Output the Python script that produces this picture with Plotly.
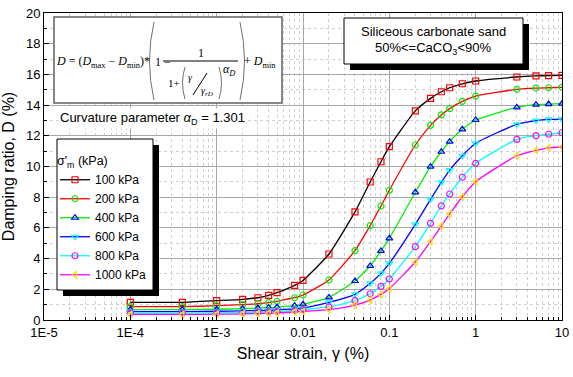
import plotly.graph_objects as go

# ---------------- data ----------------
strain = [1e-4, 4e-4, 1e-3, 2e-3, 3e-3, 4e-3, 5e-3, 8e-3, 0.01, 0.02, 0.04, 0.06,
          0.08, 0.1, 0.2, 0.3, 0.4, 0.5, 0.7, 1, 3, 5, 7, 10]
D100 = [1.15, 1.15, 1.26, 1.35, 1.45, 1.61, 1.78, 2.26, 2.58, 4.30, 7.04, 8.99,
        10.31, 11.29, 13.62, 14.44, 14.87, 15.13, 15.39, 15.57, 15.83, 15.90, 15.92, 15.93]
D200 = [0.87, 0.87, 0.93, 1.00, 1.06, 1.13, 1.22, 1.45, 1.63, 2.61, 4.52, 6.15,
        7.43, 8.45, 11.40, 12.68, 13.36, 13.77, 14.24, 14.59, 15.03, 15.11, 15.13, 15.16]
D400 = [0.68, 0.68, 0.70, 0.74, 0.78, 0.80, 0.84, 0.93, 1.02, 1.47, 2.54, 3.52,
        4.50, 5.32, 8.32, 9.99, 10.96, 11.62, 12.42, 13.03, 13.85, 14.03, 14.07, 14.09]
D600 = [0.55, 0.55, 0.57, 0.60, 0.62, 0.64, 0.66, 0.72, 0.78, 1.15, 1.67, 2.39,
        3.04, 3.69, 6.23, 7.86, 8.97, 9.77, 10.70, 11.51, 12.75, 12.99, 13.07, 13.09]
D800 = [0.45, 0.45, 0.47, 0.49, 0.51, 0.53, 0.55, 0.62, 0.68, 0.85, 1.26, 1.71,
        2.19, 2.67, 4.78, 6.30, 7.43, 8.21, 9.30, 10.21, 11.77, 12.01, 12.10, 12.20]
D1000 = [0.36, 0.36, 0.38, 0.40, 0.42, 0.44, 0.46, 0.52, 0.56, 0.68, 0.97, 1.30,
         1.67, 2.04, 3.78, 5.10, 6.12, 6.91, 8.03, 9.01, 10.70, 11.05, 11.22, 11.27]
series_names = ["100 kPa", "200 kPa", "400 kPa", "600 kPa", "800 kPa", "1000 kPa"]
x_tickvals = [1e-5, 1e-4, 1e-3, 0.01, 0.1, 1, 10]
x_ticktext = ["1E-5", "1E-4", "1E-3", "0.01", "0.1", "1", "10"]

# ---------------- styling ----------------
W, H = 573, 377
L, R, T, B = 44, 562, 13, 320   # plot area in pixels


def px(x):
    return (x - L) / (R - L)


def py(y):
    return (B - y) / (B - T)


line_cols = ["#000000", "#FF0000", "#00EE00", "#0000FF", "#00FFFF", "#FF00FF"]
mk_cols = ["#FF0000", "#00EE00", "#0000FF", "#00FFFF", "#FF00FF", "#FFE000"]
mk_syms = ["square-open", "circle-open", "triangle-up-open", "triangle-down-open",
           "circle-open", "triangle-left-open"]
all_D = [D100, D200, D400, D600, D800, D1000]

fig = go.Figure()
for name, D, lc, mc, ms in zip(series_names, all_D, line_cols, mk_cols, mk_syms):
    fig.add_trace(go.Scatter(
        x=strain, y=D, name=name, mode="lines+markers",
        line=dict(color=lc, width=1.3, shape="spline", smoothing=0.5),
        marker=dict(symbol=ms, size=6, color=mc, line=dict(color=mc, width=1.2)),
    ))

font_main = "Arial, 'Liberation Sans', sans-serif"
serif = "'Liberation Serif', 'Times New Roman', serif"

fig.update_layout(
    width=W, height=H,
    margin=dict(l=L, r=W - R, t=T, b=H - B, autoexpand=False),
    paper_bgcolor="white", plot_bgcolor="white",
    font=dict(family=font_main, size=13, color="black"),
    showlegend=True,
    legend=dict(
        x=px(55), y=py(149), xanchor="left", yanchor="top",
        bgcolor="rgba(0,0,0,0)", borderwidth=0,
        font=dict(size=12), title=dict(text="σ'<sub>m</sub> (kPa)", font=dict(size=12.5)),
        itemwidth=30, tracegroupgap=0,
    ),
    xaxis=dict(
        type="log", range=[-5, 1], tickmode="array", tickvals=x_tickvals, ticktext=x_ticktext,
        showline=True, linecolor="black", linewidth=1, mirror=True,
        ticks="inside", ticklen=5, tickcolor="black",
        showgrid=True, gridcolor="#a8a8a8", gridwidth=1,
        minor=dict(dtick="D1", ticks="inside", ticklen=3, tickcolor="black",
                   showgrid=True, gridcolor="#d0d0d0", griddash="dot"),
        title=dict(text="Shear strain, γ (%)", font=dict(size=16), standoff=9),
        tickfont=dict(size=13), zeroline=False, automargin=False,
    ),
    yaxis=dict(
        range=[0, 20], dtick=2, tick0=0,
        showline=True, linecolor="black", linewidth=1, mirror=True,
        ticks="inside", ticklen=5, tickcolor="black",
        showgrid=True, gridcolor="#a8a8a8", gridwidth=1,
        minor=dict(dtick=1, ticks="inside", ticklen=3, tickcolor="black",
                   showgrid=True, gridcolor="#d0d0d0", griddash="dot"),
        title=dict(text="Damping ratio, D (%)", font=dict(size=16), standoff=9),
        tickfont=dict(size=13), zeroline=False, automargin=False,
    ),
)

shapes = []
# formula box
shapes.append(dict(type="rect", xref="paper", yref="paper", x0=px(54), x1=px(282), y0=py(103), y1=py(17),
                   fillcolor="white", line=dict(color="#606060", width=1.5), layer="above"))
# big parentheses
shapes.append(dict(type="path", xref="paper", yref="paper",
                   path=f"M {px(154)},{py(22)} Q {px(145)},{py(61)} {px(154)},{py(100)}",
                   line=dict(color="#707070", width=1), layer="above"))
shapes.append(dict(type="path", xref="paper", yref="paper",
                   path=f"M {px(240)},{py(22)} Q {px(249)},{py(61)} {px(240)},{py(100)}",
                   line=dict(color="#707070", width=1), layer="above"))
# small denominator parens
shapes.append(dict(type="path", xref="paper", yref="paper",
                   path=f"M {px(185)},{py(67)} Q {px(180)},{py(83)} {px(185)},{py(99)}",
                   line=dict(color="#707070", width=1), layer="above"))
shapes.append(dict(type="path", xref="paper", yref="paper",
                   path=f"M {px(219)},{py(67)} Q {px(224)},{py(83)} {px(219)},{py(99)}",
                   line=dict(color="#707070", width=1), layer="above"))
# fraction bar
shapes.append(dict(type="line", xref="paper", yref="paper", x0=px(163), x1=px(238), y0=py(61), y1=py(61),
                   line=dict(color="black", width=1), layer="above"))
# slanted fraction bar gamma/gamma_rD
shapes.append(dict(type="line", xref="paper", yref="paper", x0=px(193), x1=px(207), y0=py(95), y1=py(73),
                   line=dict(color="black", width=1), layer="above"))
# siliceous box shadow + box
shapes.append(dict(type="rect", xref="paper", yref="paper", x0=px(350), x1=px(529), y0=py(70), y1=py(24),
                   fillcolor="black", line=dict(color="black", width=0), layer="above"))
shapes.append(dict(type="rect", xref="paper", yref="paper", x0=px(344), x1=px(523), y0=py(64), y1=py(18),
                   fillcolor="white", line=dict(color="black", width=1), layer="above"))
# legend frame: shadow + white box
shapes.append(dict(type="rect", xref="paper", yref="paper", x0=px(63), x1=px(159), y0=py(296), y1=py(145),
                   fillcolor="black", line=dict(color="black", width=0), layer="above"))
shapes.append(dict(type="rect", xref="paper", yref="paper", x0=px(57), x1=px(153), y0=py(290), y1=py(139),
                   fillcolor="white", line=dict(color="black", width=1), layer="above"))
fig.update_layout(shapes=shapes)


def ann(text, x, y, xanchor="left", yanchor="middle", size=12, family=serif, bg=None):
    d = dict(text=text, xref="paper", yref="paper", x=px(x), y=py(y), xanchor=xanchor, yanchor=yanchor,
             showarrow=False, font=dict(family=family, size=size, color="black"))
    if bg:
        d["bgcolor"] = bg
    fig.add_annotation(**d)


ann("<i>D</i> = (<i>D</i><sub>max</sub> − <i>D</i><sub>min</sub>)*", 54, 62)
ann("1 −", 153, 62)
ann("1", 201, 53, xanchor="center")
ann("1+", 166, 83, size=11)
ann("<i>γ</i>", 190, 77, xanchor="center", size=10)
ann("<i>γ</i><sub><i>rD</i></sub>", 207, 91, xanchor="center", size=10)
ann("<i>α</i><sub><i>D</i></sub>", 221, 70, size=12)
ann("+ <i>D</i><sub>min</sub>", 242, 62)
ann("Curvature parameter <i>α</i><sub>D</sub> = 1.301", 58, 118, size=13, family=font_main, bg="white")
ann("Siliceous carbonate sand", 433, 31, xanchor="center", size=13, family=font_main)
ann("50%<=CaCO<sub>3</sub><90%", 433, 48, xanchor="center", size=13, family=font_main)

fig.write_html("out.html", config={"displayModeBar": False},
               post_script="document.body.style.margin='0px';document.body.style.overflow='hidden';")
